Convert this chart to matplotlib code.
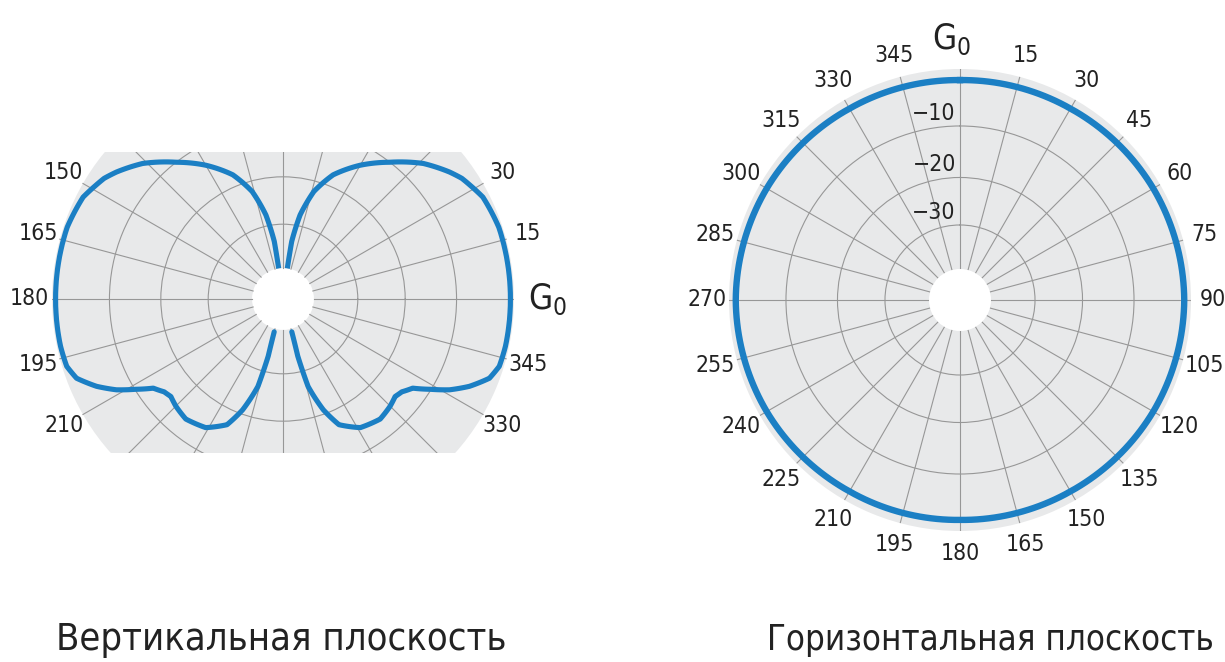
import numpy as np
import matplotlib
matplotlib.use('Agg')
from matplotlib import rcParams, pyplot as plt
from matplotlib.patches import Rectangle

# vertical plane, right lobe: angle from horizon (deg, counter-clockwise) and gain (dB)
# the left lobe is the mirror image (180 - angle)
vert_angle = [-75, -75.5, -74, -70, -66, -59, -51, -45, -41, -38, -34.5, -31.5, -28.6, -25.1, -21,
              -17.3, -12, -7, 0, 6, 12.4, 18.4, 27, 31, 34, 37.3, 44, 52, 60, 68, 74, 78.5, 81.4, 82]
vert_gain = [-29.3, -23.6, -16.6, -10.9, -7.9, -6.2, -5.6, -6.0, -6.4, -6.1, -5.2, -3.1, -2.1, -1.2, -0.35,
             -0.05, 0, 0, 0, 0, 0, 0, -0.17, -0.45, -0.65, -1.0, -1.8, -3.0, -5.6, -8.4, -12.2, -17.7, -23.8, -30]

# horizontal plane: azimuth (deg, clockwise from north) and gain (dB)
horiz_angle = list(range(0, 360, 15))
horiz_gain = [-1.5, -1.4, -1.3, -1.1, -0.9, -0.8, -0.7, -0.8, -0.9, -1.1, -1.3, -1.4,
              -1.5, -1.4, -1.3, -1.1, -0.9, -0.8, -0.7, -0.8, -0.9, -1.1, -1.3, -1.4]

# non-linear radial scale of the sheet: dB -> radius (px of the printed disc)
ring_px = [0, 31, 75, 122.5, 174, 228, 282]
left_db = [-37, -30, -20, -10, -3, 0, 3]
right_db = [-47, -40, -30, -20, -10, 0, 10]
left_rings = [-20, -10, -3]
right_rings = [-30, -20, -10]

left_shown = [15, 30, 150, 165, 180, 195, 210, 330, 345]
titles = ['Вертикальная плоскость', 'Горизонтальная плоскость']

BLUE = '#1b7fc4'
DISC = '#e8e9ea'
GRID = '#979797'
INK = '#222222'


def setFont():
    config = {
        "font.family": ['Liberation Sans Narrow', 'DejaVu Sans'],
        "font.stretch": 'condensed',
        "font.size": 16,
        "mathtext.fontset": 'custom',
        "mathtext.rm": 'DejaVu Sans',
    }
    rcParams.update(config)


def scale_funcs(db):
    fwd = lambda v: np.interp(v, db, ring_px)
    inv = lambda v: np.interp(v, ring_px, db)
    return fwd, inv


def setup(ax, db, rmin, rmax, rings, labels):
    ax.set_rscale('function', functions=scale_funcs(db))
    ax.set_rorigin(db[0])
    ax.set_ylim(rmin, rmax)
    ax.set_facecolor(DISC)
    ax.set_thetagrids(np.arange(0, 360, 15), labels, fontsize=16.5, color=INK)
    ax.set_yticks(rings)
    ax.set_yticklabels([])
    ax.grid(True, color=GRID, linewidth=0.8)
    ax.tick_params(length=0)
    ax.tick_params(axis='x', pad=9)
    for sp in ax.spines.values():
        sp.set_visible(False)
        sp.set_linewidth(0)
        sp.set_edgecolor('none')


setFont()
fig = plt.figure(figsize=(12.25, 6.62), dpi=100)

# ---- vertical plane ----
ax1 = fig.add_axes([0.04245, 0.1994, 0.37714, 0.69789], projection='polar')
lab1 = [str(a) if a in left_shown else '' for a in range(0, 360, 15)]
setup(ax1, left_db, -30, 0.2, left_rings, lab1)
th = np.deg2rad(vert_angle)
thl = np.deg2rad([180 - a for a in vert_angle])
for t in (th, thl):
    ln, = ax1.plot(t, vert_gain, color=BLUE, lw=3.7, solid_capstyle='round', solid_joinstyle='round')
    ln.get_path()._interpolation_steps = 8
ax1.set_ylim(-30, 0.2)
for r in left_rings:
    ax1.annotate(str(r).replace('-', '\u2212'), xy=(0, r), xytext=(2, 1),
                 textcoords='offset points', ha='left', va='bottom', fontsize=16.5, color=INK)
ax1.text(0, 1.0, r'$\mathrm{G}_\mathrm{0}$', ha='left', va='center', fontsize=25, color=INK)

ax1.xaxis.get_major_ticks()
ax1.yaxis.get_major_ticks()
box = Rectangle((0, 0.1667), 1, 0.6515, transform=ax1.transAxes)
ax1.patch.set_clip_path(box)
ax1.xaxis.set_clip_path(box)
ax1.yaxis.set_clip_path(box)

# ---- horizontal plane ----
ax2 = fig.add_axes([0.5951, 0.19789, 0.37714, 0.69789], projection='polar')
ax2.set_theta_zero_location('N')
ax2.set_theta_direction(-1)
lab2 = ['' if a == 0 else str(a) for a in range(0, 360, 15)]
setup(ax2, right_db, -40, 0.55, right_rings, lab2)
ln, = ax2.plot(np.deg2rad(horiz_angle + [360]), horiz_gain + [horiz_gain[0]], color=BLUE, lw=4.6)
ln.get_path()._interpolation_steps = 10
ax2.set_ylim(-40, 0.55)
for r in right_rings:
    ax2.annotate(str(r).replace('-', '\u2212'), xy=(0, r), xytext=(-3, 1),
                 textcoords='offset points', ha='right', va='bottom', fontsize=16.5, color=INK)
ax2.annotate(r'$\mathrm{G}_\mathrm{0}$', xy=(0, 2.8), xytext=(-6, 0), textcoords='offset points',
             ha='center', va='bottom', fontsize=25, color=INK, annotation_clip=False)

t1 = fig.text(281 / 1225, 1 - 640 / 662, titles[0], ha='center', va='center', fontsize=28, color=INK)
t2 = fig.text(990 / 1225, 1 - 640 / 662, titles[1], ha='center', va='center', fontsize=28, color=INK)

# fit the captions to the width they take on the sheet
fig.canvas.draw()
rend = fig.canvas.get_renderer()
for t, target in ((t1, 448), (t2, 444)):
    w = t.get_window_extent(rend).width
    t.set_fontsize(t.get_fontsize() * target / w)

fig.savefig('out.png', dpi=100)
